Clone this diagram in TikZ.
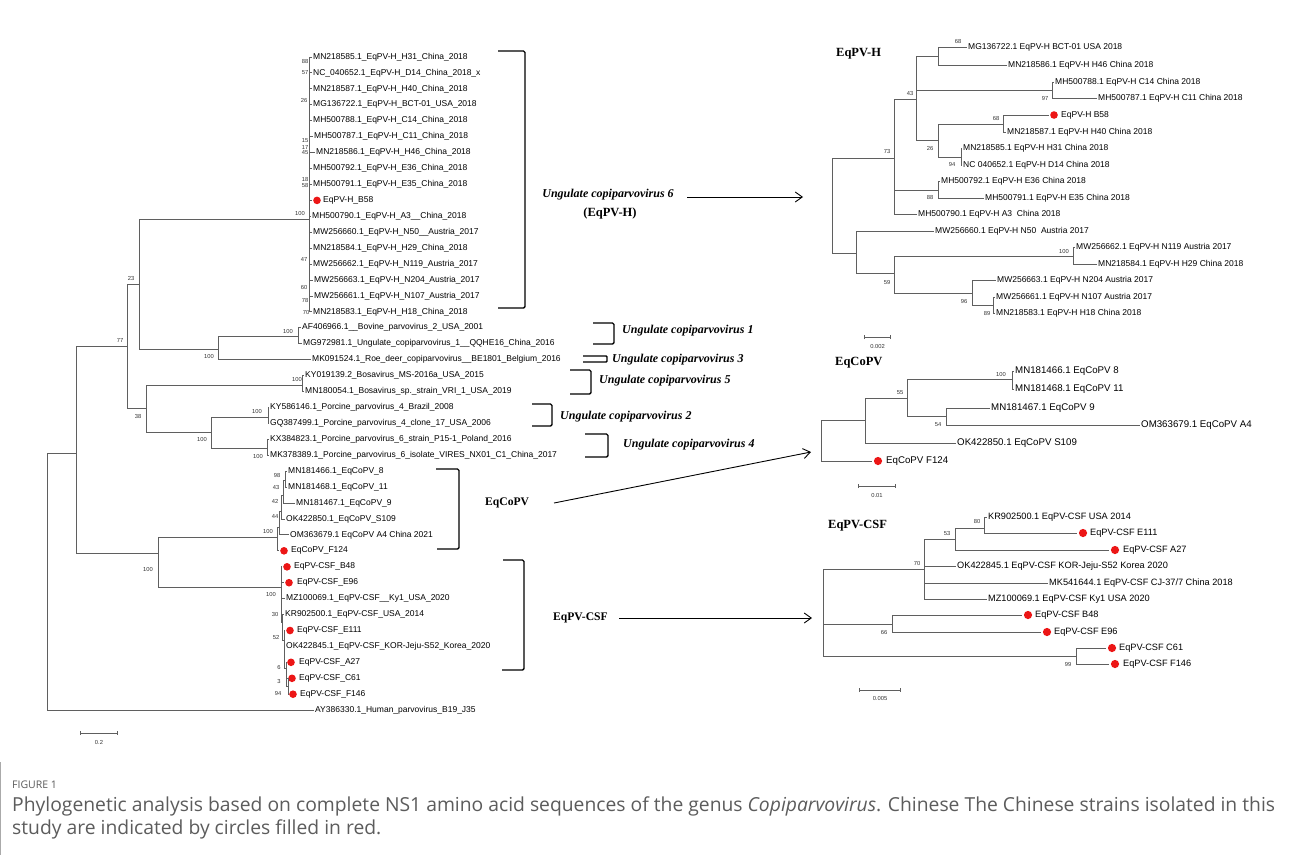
\documentclass[tikz,border=0pt]{standalone}
\usepackage{fontspec}
\setmainfont{Liberation Serif}
\newfontfamily\lsans{Liberation Sans}
\newfontfamily\lserif{Liberation Serif}
\newfontfamily\capfam{Open Sans}
\usetikzlibrary{arrows.meta}
\definecolor{treegray}{RGB}{95,95,95}
\definecolor{dotred}{RGB}{236,22,22}
\definecolor{capgray}{RGB}{92,92,92}
\definecolor{rulegray}{RGB}{170,170,170}
\newcommand\lblfont{\lsans\fontsize{8.5}{9}\selectfont}
\newcommand\lblfontQ{\lsans\fontsize{9.7}{10}\selectfont}
\newcommand\lblfontS{\lsans\fontsize{9.2}{10}\selectfont}
\newcommand\bsfont{\lsans\fontsize{5.8}{6}\selectfont}
\newcommand\grpfont{\lserif\bfseries\itshape\fontsize{12}{13}\selectfont}
\newcommand\ttlfont{\lserif\bfseries\fontsize{12.5}{14}\selectfont}
\newcommand\ttlfontL{\lserif\bfseries\fontsize{11.6}{13}\selectfont}
\newcommand\mkleaf[4]{\node[lbl] (#1) at (#2,#3) {#4};}
\newcommand\mkdot[5]{\node[rdot] (#1) at (#2,#4) {}; \node[lbl] (#1t) at (#3,#4) {#5};}
\newcommand\mkbr[2]{\draw[br] (#1) |- ([xshift=-1.3pt]#2.west);}
\newcommand\mkin[2]{\draw[br] (#1) |- (#2);}
\newcommand\mkbs[4]{\node[bs] (#1) at (#2,#3) {#4};}
\tikzset{
  br/.style={draw=treegray, line width=0.9pt},
  lbl/.style={anchor=west, inner sep=0pt, font=\lblfont, text height=6.1pt, text depth=1.8pt},
  bs/.style={inner sep=0pt, font=\bsfont, text=black!80},
  rdot/.style={circle, fill=dotred, draw=none, minimum size=7.6pt, inner sep=0pt},
  brk/.style={draw=black, line width=1.4pt, rounded corners=1.5pt},
  grp/.style={font=\grpfont, inner sep=0pt},
  ttl/.style={font=\ttlfont, inner sep=0pt, anchor=west},
  ttlL/.style={font=\ttlfontL, inner sep=0pt, anchor=west},
  arr/.style={draw=black, line width=0.9pt, -{Straight Barb[length=7pt,width=10pt]}},
  sbar/.style={draw=treegray, line width=0.8pt, {Bar[width=4pt]}-{Bar[width=4pt]}},
  captxt/.style={anchor=west, inner sep=0pt, text=capgray}
}
\begin{document}
\begin{tikzpicture}[x=1pt,y=-1pt]
\fill[white] (0,0) rectangle (1290,855);
\useasboundingbox (0,0) rectangle (1290,855);

% ================= LEFT TREE =================
\mkleaf{H1}{313}{57.0}{MN218585.1\_EqPV-H\_H31\_China\_2018}
\mkleaf{H2}{313}{72.9}{NC\_040652.1\_EqPV-H\_D14\_China\_2018\_x}
\mkleaf{H3}{313}{88.9}{MN218587.1\_EqPV-H\_H40\_China\_2018}
\mkleaf{H4}{313}{104.8}{MG136722.1\_EqPV-H\_BCT-01\_USA\_2018}
\mkleaf{H5}{313}{120.7}{MH500788.1\_EqPV-H\_C14\_China\_2018}
\mkleaf{H6}{314}{136.7}{MH500787.1\_EqPV-H\_C11\_China\_2018}
\mkleaf{H7}{316}{152.6}{MN218586.1\_EqPV-H\_H46\_China\_2018}
\mkleaf{H8}{313}{168.5}{MH500792.1\_EqPV-H\_E36\_China\_2018}
\mkleaf{H9}{313}{184.4}{MH500791.1\_EqPV-H\_E35\_China\_2018}
\mkdot{H10}{317}{323}{200.4}{EqPV-H\_B58}
\mkleaf{H11}{312}{216.3}{MH500790.1\_EqPV-H\_A3\_\_China\_2018}
\mkleaf{H12}{313}{232.2}{MW256660.1\_EqPV-H\_N50\_\_Austria\_2017}
\mkleaf{H13}{313}{248.2}{MN218584.1\_EqPV-H\_H29\_China\_2018}
\mkleaf{H14}{313}{264.1}{MW256662.1\_EqPV-H\_N119\_Austria\_2017}
\mkleaf{H15}{314}{280.0}{MW256663.1\_EqPV-H\_N204\_Austria\_2017}
\mkleaf{H16}{314}{296.0}{MW256661.1\_EqPV-H\_N107\_Austria\_2017}
\mkleaf{H17}{313}{311.9}{MN218583.1\_EqPV-H\_H18\_China\_2018}
\mkleaf{U18}{302}{327.8}{AF406966.1\_\_Bovine\_parvovirus\_2\_USA\_2001}
\mkleaf{U19}{303}{343.7}{MG972981.1\_Ungulate\_copiparvovirus\_1\_\_QQHE16\_China\_2016}
\mkleaf{U20}{312}{359.7}{MK091524.1\_Roe\_deer\_copiparvovirus\_\_BE1801\_Belgium\_2016}
\mkleaf{U21}{305}{375.6}{KY019139.2\_Bosavirus\_MS-2016a\_USA\_2015}
\mkleaf{U22}{305}{391.5}{MN180054.1\_Bosavirus\_sp.\_strain\_VRI\_1\_USA\_2019}
\mkleaf{U23}{270}{407.5}{KY586146.1\_Porcine\_parvovirus\_4\_Brazil\_2008}
\mkleaf{U24}{270}{423.4}{GQ387499.1\_Porcine\_parvovirus\_4\_clone\_17\_USA\_2006}
\mkleaf{U25}{270}{439.3}{KX384823.1\_Porcine\_parvovirus\_6\_strain\_P15-1\_Poland\_2016}
\mkleaf{U26}{270}{455.2}{MK378389.1\_Porcine\_parvovirus\_6\_isolate\_VIRES\_NX01\_C1\_China\_2017}
\mkleaf{E27}{288}{471.2}{MN181466.1\_EqCoPV\_8}
\mkleaf{E28}{288}{487.1}{MN181468.1\_EqCoPV\_11}
\mkleaf{E29}{296}{503.0}{MN181467.1\_EqCoPV\_9}
\mkleaf{E30}{286}{519.0}{OK422850.1\_EqCoPV\_S109}
\mkleaf{E31}{290}{534.9}{OM363679.1 EqCoPV A4 China 2021}
\mkdot{E32}{284}{291}{550.8}{EqCoPV\_F124}
\mkdot{C33}{287}{294}{566.8}{EqPV-CSF\_B48}
\mkdot{C34}{289}{297}{582.7}{EqPV-CSF\_E96}
\mkleaf{C35}{286}{598.6}{MZ100069.1\_EqPV-CSF\_\_Ky1\_USA\_2020}
\mkleaf{C36}{285}{614.5}{KR902500.1\_EqPV-CSF\_USA\_2014}
\mkdot{C37}{290}{297}{630.5}{EqPV-CSF\_E111}
\mkleaf{C38}{286}{646.4}{OK422845.1\_EqPV-CSF\_KOR-Jeju-S52\_Korea\_2020}
\mkdot{C39}{291}{299}{662.3}{EqPV-CSF\_A27}
\mkdot{C40}{292}{299}{678.3}{EqPV-CSF\_C61}
\mkdot{C41}{293}{300}{694.2}{EqPV-CSF\_F146}
\mkleaf{AY}{315}{710.1}{AY386330.1\_Human\_parvovirus\_B19\_J35}

\coordinate (L0) at (47,453);
\coordinate (L76) at (76,453);
\coordinate (L127) at (127,346);
\coordinate (L139) at (139,284);
\coordinate (LH) at (309,219);
\coordinate (L218) at (218,349);
\coordinate (L298) at (298,336);
\coordinate (L146) at (146,408);
\coordinate (L302) at (302,385);
\coordinate (L211) at (211,432);
\coordinate (L268) at (268,417);
\coordinate (L267) at (267,448);
\coordinate (L158) at (158,553);
\coordinate (LE0) at (277,537);
\coordinate (LE1) at (279,527);
\coordinate (LE2) at (281,511);
\coordinate (LE3) at (283,495);
\coordinate (LE4) at (285,480);
\coordinate (LC0) at (281,587);
\coordinate (LC1) at (282.5,622);
\coordinate (LC2) at (284,640);
\coordinate (LC3) at (286,668);
\coordinate (LC4) at (288,686);

\mkin{L0}{L76} \mkbr{L0}{AY}
\mkin{L76}{L127} \mkin{L76}{L158}
\mkin{L127}{L139} \mkin{L127}{L146}
\mkin{L139}{LH} \mkin{L139}{L218}
\foreach \n in {H1,H2,H3,H4,H5,H6,H7,H8,H9,H10,H11,H12,H13,H14,H15,H16,H17}{\mkbr{LH}{\n}}
\mkin{L218}{L298} \mkbr{L218}{U20}
\mkbr{L298}{U18} \mkbr{L298}{U19}
\mkin{L146}{L302} \mkin{L146}{L211}
\mkbr{L302}{U21} \mkbr{L302}{U22}
\mkin{L211}{L268} \mkin{L211}{L267}
\mkbr{L268}{U23} \mkbr{L268}{U24}
\mkbr{L267}{U25} \mkbr{L267}{U26}
\mkin{L158}{LE0} \mkin{L158}{LC0}
\mkbr{LE0}{E32} \mkin{LE0}{LE1}
\mkbr{LE1}{E31} \mkin{LE1}{LE2}
\mkbr{LE2}{E30} \mkin{LE2}{LE3}
\mkbr{LE3}{E29} \mkin{LE3}{LE4}
\mkbr{LE4}{E27} \mkbr{LE4}{E28}
\mkbr{LC0}{C33} \mkbr{LC0}{C34} \mkbr{LC0}{C35} \mkin{LC0}{LC1}
\mkbr{LC1}{C36} \mkin{LC1}{LC2}
\mkbr{LC2}{C37} \mkbr{LC2}{C38} \mkin{LC2}{LC3}
\mkbr{LC3}{C39} \mkin{LC3}{LC4}
\mkbr{LC4}{C40} \mkbr{LC4}{C41}

% bootstrap values, left tree
\mkbs{b1}{305}{61}{88} \mkbs{b2}{305}{73}{57} \mkbs{b3}{304}{100}{26}
\mkbs{b4}{305}{141}{15} \mkbs{b5}{305}{147}{17} \mkbs{b6}{305}{153}{45}
\mkbs{b7}{305}{179}{18} \mkbs{b8}{305}{185}{58} \mkbs{b9}{300}{213}{100}
\mkbs{b10}{304}{259}{47} \mkbs{b11}{304}{287}{60} \mkbs{b12}{305}{300}{78}
\mkbs{b13}{306}{312}{70}
\mkbs{b14}{288}{331}{100} \mkbs{b15}{209}{356}{100} \mkbs{b16}{297}{379}{100}
\mkbs{b17}{138}{416}{38} \mkbs{b18}{257}{411}{100} \mkbs{b19}{202}{439}{100}
\mkbs{b20}{258}{456}{100} \mkbs{b21}{120}{340}{77} \mkbs{b22}{131}{278}{23}
\mkbs{b23}{148}{569}{100}
\mkbs{b24}{277}{475}{98} \mkbs{b25}{276}{487}{43} \mkbs{b26}{275}{501}{42}
\mkbs{b27}{275}{516}{44} \mkbs{b28}{268}{531}{100}
\mkbs{b29}{271}{594}{100} \mkbs{b30}{275}{614}{30} \mkbs{b31}{276}{637}{52}
\mkbs{b32}{279}{667}{6} \mkbs{b33}{279}{681}{3} \mkbs{b34}{278}{693}{94}

% scale bar left
\coordinate (sL1) at (80,733); \coordinate (sL2) at (118,733);
\draw[sbar] (sL1) -- (sL2);
\node[bs] (sLt) at (99,742) {0.2};

% brackets
\coordinate (k1a) at (498,51); \coordinate (k1b) at (525,51); \coordinate (k1c) at (525,308); \coordinate (k1d) at (498,308);
\draw[brk] (k1a) -- (k1b) -- (k1c) -- (k1d);
\coordinate (k2a) at (593,323); \coordinate (k2b) at (614,323); \coordinate (k2c) at (614,344); \coordinate (k2d) at (593,344);
\draw[brk] (k2a) -- (k2b) -- (k2c) -- (k2d);
\coordinate (k3a) at (583,356); \coordinate (k3b) at (607,356); \coordinate (k3c) at (607,362); \coordinate (k3d) at (583,362);
\draw[brk, rounded corners=0.8pt] (k3a) -- (k3b) -- (k3c) -- (k3d);
\coordinate (k4a) at (570,370); \coordinate (k4b) at (591,370); \coordinate (k4c) at (591,394); \coordinate (k4d) at (570,394);
\draw[brk] (k4a) -- (k4b) -- (k4c) -- (k4d);
\coordinate (k5a) at (532,404); \coordinate (k5b) at (552,404); \coordinate (k5c) at (552,426); \coordinate (k5d) at (532,426);
\draw[brk] (k5a) -- (k5b) -- (k5c) -- (k5d);
\coordinate (k6a) at (585,434); \coordinate (k6b) at (608,434); \coordinate (k6c) at (608,457); \coordinate (k6d) at (585,457);
\draw[brk] (k6a) -- (k6b) -- (k6c) -- (k6d);
\coordinate (k7a) at (436,469); \coordinate (k7b) at (459,469); \coordinate (k7c) at (459,549); \coordinate (k7d) at (437,549);
\draw[brk] (k7a) -- (k7b) -- (k7c) -- (k7d);
\coordinate (k8a) at (503,560); \coordinate (k8b) at (524,560); \coordinate (k8c) at (524,670); \coordinate (k8d) at (502,670);
\draw[brk] (k8a) -- (k8b) -- (k8c) -- (k8d);

% group labels
\node[grp] (g6) at (608,195) {Ungulate copiparvovirus 6};
\node[font=\ttlfont, inner sep=0pt] (g6b) at (610,213) {(EqPV-H)};
\node[grp, anchor=west] (g1) at (622,331) {Ungulate copiparvovirus 1};
\node[grp, anchor=west] (g3) at (612,360) {Ungulate copiparvovirus 3};
\node[grp, anchor=west] (g5) at (599,381) {Ungulate copiparvovirus 5};
\node[grp, anchor=west] (g2) at (560,417) {Ungulate copiparvovirus 2};
\node[grp, anchor=west] (g4) at (623,445) {Ungulate copiparvovirus 4};
\node[ttlL] (gco) at (485,503) {EqCoPV};
\node[ttlL] (gcsf) at (553,618) {EqPV-CSF};

% ================= RIGHT TREE: EqPV-H =================
\node[ttl] (tH) at (836,54) {EqPV-H};
\mkleaf{R1}{968}{47}{MG136722.1 EqPV-H BCT-01 USA 2018}
\mkleaf{R2}{1008}{65}{MN218586.1 EqPV-H H46 China 2018}
\mkleaf{R3}{1055}{82}{MH500788.1 EqPV-H C14 China 2018}
\mkleaf{R4}{1098}{98}{MH500787.1 EqPV-H C11 China 2018}
\mkdot{R5}{1054}{1061}{115}{EqPV-H B58}
\mkleaf{R6}{1007}{132}{MN218587.1 EqPV-H H40 China 2018}
\mkleaf{R7}{963}{148}{MN218585.1 EqPV-H H31 China 2018}
\mkleaf{R8}{963}{165}{NC 040652.1 EqPV-H D14 China 2018}
\mkleaf{R9}{941}{181}{MH500792.1 EqPV-H E36 China 2018}
\mkleaf{R10}{985}{198}{MH500791.1 EqPV-H E35 China 2018}
\mkleaf{R11}{918}{214}{MH500790.1 EqPV-H A3\ \ China 2018}
\mkleaf{R12}{935}{231}{MW256660.1 EqPV-H N50\ \ Austria 2017}
\mkleaf{R13}{1076}{247}{MW256662.1 EqPV-H N119 Austria 2017}
\mkleaf{R14}{1098}{264}{MN218584.1 EqPV-H H29 China 2018}
\mkleaf{R15}{997}{280}{MW256663.1 EqPV-H N204 Austria 2017}
\mkleaf{R16}{996}{297}{MW256661.1 EqPV-H N107 Austria 2017}
\mkleaf{R17}{996}{313}{MN218583.1 EqPV-H H18 China 2018}

\coordinate (RH0) at (832,205);
\coordinate (RH73) at (894,158);
\coordinate (RH43) at (916,99);
\coordinate (RH68a) at (938,56);
\coordinate (RH97) at (1052,90);
\coordinate (RH26) at (938,140);
\coordinate (RH68b) at (1003,124);
\coordinate (RH94) at (961,157);
\coordinate (RH88) at (938,190);
\coordinate (RHb) at (856,253);
\coordinate (RH59) at (894,273);
\coordinate (RH100) at (1073,256);
\coordinate (RH96) at (972,293);
\coordinate (RH89) at (993,305);

\mkin{RH0}{RH73} \mkin{RH0}{RHb}
\mkin{RH73}{RH43} \mkin{RH73}{RH88} \mkbr{RH73}{R11}
\mkin{RH43}{RH68a} \mkin{RH43}{RH97} \mkin{RH43}{RH26}
\mkbr{RH68a}{R1} \mkbr{RH68a}{R2}
\mkbr{RH97}{R3} \mkbr{RH97}{R4}
\mkin{RH26}{RH68b} \mkin{RH26}{RH94}
\mkbr{RH68b}{R5} \mkbr{RH68b}{R6}
\mkbr{RH94}{R7} \mkbr{RH94}{R8}
\mkbr{RH88}{R9} \mkbr{RH88}{R10}
\mkbr{RHb}{R12} \mkin{RHb}{RH59}
\mkin{RH59}{RH100} \mkin{RH59}{RH96}
\mkbr{RH100}{R13} \mkbr{RH100}{R14}
\mkbr{RH96}{R15} \mkin{RH96}{RH89}
\mkbr{RH89}{R16} \mkbr{RH89}{R17}

\mkbs{c1}{958}{41}{68} \mkbs{c2}{910}{93}{43} \mkbs{c3}{887}{151}{73}
\mkbs{c4}{1045}{98}{97} \mkbs{c5}{930}{148}{26} \mkbs{c6}{996}{118}{68}
\mkbs{c7}{952}{164}{94} \mkbs{c8}{930}{197}{88} \mkbs{c9}{887}{282}{59}
\mkbs{c10}{1064}{251}{100} \mkbs{c11}{964}{301}{96} \mkbs{c12}{987}{313}{89}

\coordinate (sH1) at (864,337); \coordinate (sH2) at (891,337);
\draw[sbar] (sH1) -- (sH2);
\node[bs] (sHt) at (877.5,346) {0.002};

% ================= RIGHT TREE: EqCoPV =================
\node[ttl] (tQ) at (835,363) {EqCoPV};
\begin{scope}[lbl/.append style={font=\lblfontQ, text height=6.9pt, text depth=2pt},
              rdot/.append style={minimum size=8.2pt}]
\mkleaf{Q1}{1015}{371}{MN181466.1 EqCoPV 8}
\mkleaf{Q2}{1015}{389}{MN181468.1 EqCoPV 11}
\mkleaf{Q3}{991}{408}{MN181467.1 EqCoPV 9}
\mkleaf{Q4}{1141}{425}{OM363679.1 EqCoPV A4}
\mkleaf{Q5}{957}{443}{OK422850.1 EqCoPV S109}
\mkdot{Q6}{878}{886}{461}{EqCoPV F124}
\end{scope}
\coordinate (RQ0) at (821,440);
\coordinate (RQa) at (865,420);
\coordinate (RQ55) at (907,398);
\coordinate (RQ100) at (1012,379);
\coordinate (RQ54) at (946,416);
\mkin{RQ0}{RQa} \mkbr{RQ0}{Q6}
\mkin{RQa}{RQ55} \mkbr{RQa}{Q5}
\mkin{RQ55}{RQ100} \mkin{RQ55}{RQ54}
\mkbr{RQ100}{Q1} \mkbr{RQ100}{Q2}
\mkbr{RQ54}{Q3} \mkbr{RQ54}{Q4}
\mkbs{d1}{900}{393}{55} \mkbs{d2}{1001}{374}{100} \mkbs{d3}{938}{425}{54}
\coordinate (sQ1) at (858,486); \coordinate (sQ2) at (896,486);
\draw[sbar] (sQ1) -- (sQ2);
\node[bs] (sQt) at (877,495) {0.01};

% ================= RIGHT TREE: EqPV-CSF =================
\node[ttl] (tS) at (828,526) {EqPV-CSF};
\begin{scope}[lbl/.append style={font=\lblfontS, text height=6.6pt, text depth=1.9pt},
              rdot/.append style={minimum size=8.2pt}]
\mkleaf{S1}{988}{517}{KR902500.1 EqPV-CSF USA 2014}
\mkdot{S2}{1083}{1090}{533}{EqPV-CSF E111}
\mkdot{S3}{1115}{1123}{550}{EqPV-CSF A27}
\mkleaf{S4}{957}{566}{OK422845.1 EqPV-CSF KOR-Jeju-S52 Korea 2020}
\mkleaf{S5}{1049}{583}{MK541644.1 EqPV-CSF CJ-37/7 China 2018}
\mkleaf{S6}{988}{599}{MZ100069.1 EqPV-CSF Ky1 USA 2020}
\mkdot{S7}{1028}{1035}{615}{EqPV-CSF B48}
\mkdot{S8}{1047}{1054}{632}{EqPV-CSF E96}
\mkdot{S9}{1112}{1119}{648}{EqPV-CSF C61}
\mkdot{S10}{1115}{1123}{664}{EqPV-CSF F146}
\end{scope}
\coordinate (RS0) at (823,612);
\coordinate (RS70) at (924,569);
\coordinate (RS53) at (955,539);
\coordinate (RS80) at (984,528);
\coordinate (RS66) at (892,624);
\coordinate (RS99) at (1076,656);
\mkin{RS0}{RS70} \mkin{RS0}{RS66} \mkin{RS0}{RS99}
\mkin{RS70}{RS53} \mkbr{RS70}{S4} \mkbr{RS70}{S5} \mkbr{RS70}{S6}
\mkin{RS53}{RS80} \mkbr{RS53}{S3}
\mkbr{RS80}{S1} \mkbr{RS80}{S2}
\mkbr{RS66}{S7} \mkbr{RS66}{S8}
\mkbr{RS99}{S9} \mkbr{RS99}{S10}
\mkbs{e1}{977}{521}{80} \mkbs{e2}{947}{533}{53} \mkbs{e3}{917}{563}{70}
\mkbs{e4}{884}{632}{66} \mkbs{e5}{1068}{664}{99}
\coordinate (sS1) at (859,690); \coordinate (sS2) at (901,690);
\draw[sbar] (sS1) -- (sS2);
\node[bs] (sSt) at (880,698) {0.005};

% ================= ARROWS =================
\coordinate (a1s) at (687,197); \coordinate (a1e) at (803,197);
\draw[arr] (a1s) -- (a1e);
\coordinate (a2s) at (554,503); \coordinate (a2e) at (811,452);
\draw[arr] (a2s) -- (a2e);
\coordinate (a3s) at (619,618); \coordinate (a3e) at (812,618);
\draw[arr] (a3s) -- (a3e);

% ================= CAPTION =================
\coordinate (r1) at (0.6,762); \coordinate (r2) at (0.6,855);
\draw[rulegray, line width=1pt] (r1) -- (r2);
\node[captxt, font=\capfam\fontsize{10.5}{12}\selectfont] (fig) at (12,785) {FIGURE 1};
\node[captxt, font=\capfam\fontsize{19.3}{22}\selectfont] (cap1) at (12,806) {Phylogenetic analysis based on complete NS1 amino acid sequences of the genus \textit{Copiparvovirus}. Chinese The Chinese strains isolated in this};
\node[captxt, font=\capfam\fontsize{19.3}{22}\selectfont] (cap2) at (12,829) {study are indicated by circles filled in red.};
\end{tikzpicture}
\end{document}
